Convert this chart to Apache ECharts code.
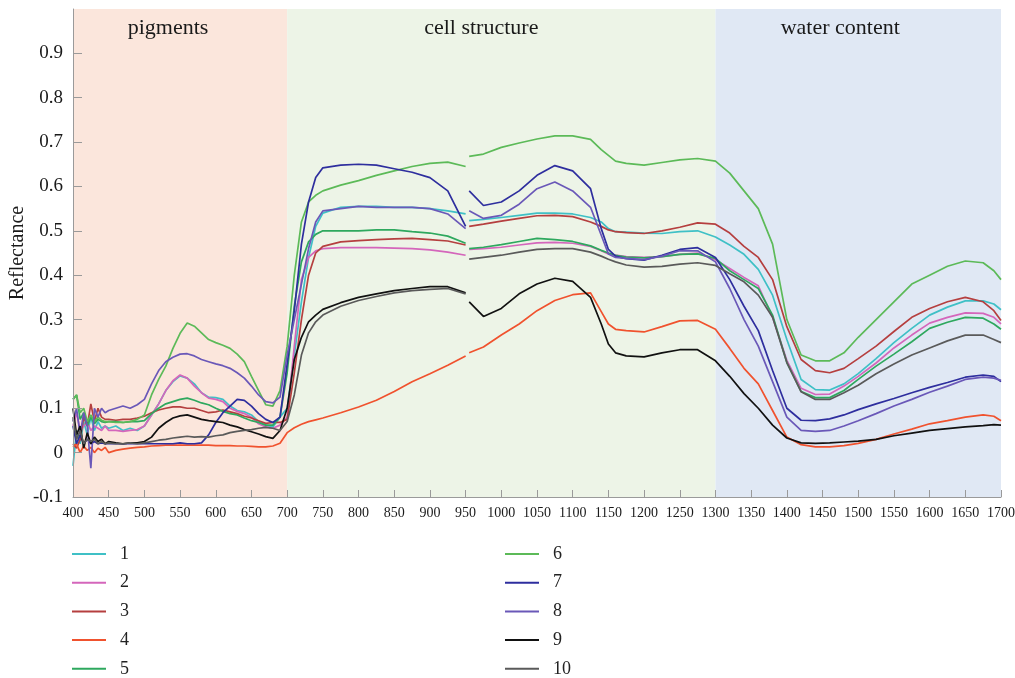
<!DOCTYPE html>
<html><head><meta charset="utf-8">
<script src="https://cdn.jsdelivr.net/npm/echarts@6/dist/echarts.min.js"></script>
<style>html,body{margin:0;padding:0;background:#fff}#c{width:1015px;height:678px}</style>
</head><body><div id="c"></div>
<script>
// Wavelengths (nm): segment A (VNIR) and segment B (SWIR); the sensors join at 950 nm
const wavelengthsA = [400,405,410,415,420,425,430,435,440,445,450,460,470,480,490,500,510,520,530,540,550,560,570,580,590,600,610,620,630,640,650,660,670,680,690,700,710,720,730,740,750,775,800,825,850,875,900,925,950];
const wavelengthsB = [955,975,1000,1025,1050,1075,1100,1125,1140,1150,1160,1175,1200,1225,1250,1275,1300,1320,1340,1360,1380,1400,1420,1440,1460,1480,1500,1525,1550,1575,1600,1625,1650,1675,1690,1700];
const seriesNames = ['1','2','3','4','5','6','7','8','9','10'];
const seriesColors = ['#3fc0c6','#d466bb','#b53f3f','#f0522e','#2ea85e','#5cba58','#2e2e9e','#6a58b8','#111111','#5a5a5a'];
const regionNames = ['pigments','cell structure','water content'];
const regionBounds = [[400,700],[700,1300],[1300,1700]];
const regionColors = ['#fbe6dc','#edf4e7','#e0e8f4'];
const yTickMin = -0.1, yTickMax = 1.0, yTickStep = 0.1;
const yTickValues = [-0.1,0,0.1,0.2,0.3,0.4,0.5,0.6,0.7,0.8,0.9];
const xTickMin = 400, xTickMax = 1700, xTickStep = 50;

const s1A = [-0.03,0.05,0.02,0.07,0.04,0.08,0.05,0.07,0.055,0.06,0.055,0.06,0.05,0.055,0.05,0.06,0.085,0.11,0.14,0.16,0.173,0.168,0.155,0.135,0.125,0.124,0.12,0.105,0.095,0.092,0.085,0.07,0.062,0.058,0.08,0.10,0.22,0.34,0.44,0.51,0.54,0.553,0.555,0.555,0.553,0.553,0.55,0.545,0.538];
const s1B = [0.523,0.526,0.53,0.535,0.54,0.54,0.538,0.53,0.52,0.505,0.498,0.497,0.495,0.494,0.498,0.5,0.486,0.468,0.447,0.413,0.355,0.255,0.165,0.142,0.141,0.155,0.178,0.212,0.248,0.28,0.31,0.328,0.342,0.342,0.335,0.322];
const s2A = [0.06,0.09,0.05,0.06,0.07,0.05,0.06,0.055,0.05,0.06,0.05,0.05,0.048,0.05,0.052,0.06,0.085,0.11,0.14,0.162,0.175,0.168,0.15,0.135,0.123,0.12,0.115,0.1,0.093,0.088,0.08,0.065,0.058,0.055,0.062,0.08,0.24,0.39,0.44,0.455,0.46,0.462,0.462,0.462,0.461,0.46,0.457,0.452,0.445];
const s2B = [0.458,0.46,0.463,0.468,0.473,0.474,0.472,0.465,0.455,0.448,0.445,0.442,0.44,0.442,0.447,0.45,0.435,0.415,0.395,0.376,0.305,0.208,0.145,0.131,0.132,0.15,0.172,0.202,0.236,0.265,0.292,0.305,0.315,0.314,0.305,0.29];
const s3A = [0.02,0.01,0.03,0.08,0.06,0.11,0.07,0.1,0.08,0.075,0.075,0.073,0.075,0.075,0.078,0.082,0.09,0.096,0.1,0.103,0.103,0.1,0.1,0.095,0.09,0.092,0.096,0.092,0.088,0.082,0.078,0.072,0.066,0.068,0.068,0.075,0.18,0.30,0.40,0.45,0.465,0.475,0.478,0.48,0.482,0.483,0.48,0.477,0.468];
const s3B = [0.51,0.515,0.522,0.528,0.534,0.535,0.532,0.52,0.51,0.502,0.498,0.496,0.494,0.5,0.508,0.518,0.515,0.495,0.465,0.44,0.39,0.284,0.21,0.185,0.18,0.19,0.212,0.24,0.273,0.305,0.325,0.34,0.35,0.34,0.32,0.298];
const s4A = [0.013,0.02,0.0,0.015,0.005,0.012,0.0,0.01,0.005,0.012,0.0,0.005,0.008,0.01,0.012,0.013,0.015,0.016,0.017,0.017,0.017,0.017,0.017,0.017,0.017,0.016,0.016,0.016,0.015,0.015,0.014,0.013,0.013,0.015,0.021,0.045,0.056,0.064,0.07,0.074,0.078,0.09,0.103,0.118,0.138,0.16,0.178,0.197,0.218];
const s4B = [0.225,0.238,0.265,0.29,0.32,0.343,0.356,0.36,0.318,0.29,0.278,0.275,0.272,0.284,0.297,0.298,0.278,0.235,0.19,0.155,0.095,0.035,0.018,0.013,0.013,0.016,0.021,0.03,0.042,0.053,0.065,0.072,0.08,0.085,0.082,0.072];
const s5A = [0.12,0.13,0.075,0.09,0.06,0.08,0.065,0.075,0.07,0.068,0.07,0.07,0.068,0.07,0.07,0.072,0.088,0.1,0.11,0.115,0.12,0.123,0.118,0.112,0.108,0.1,0.093,0.088,0.085,0.078,0.072,0.068,0.062,0.062,0.08,0.18,0.33,0.43,0.475,0.492,0.5,0.5,0.5,0.502,0.502,0.498,0.495,0.488,0.472];
const s5B = [0.46,0.463,0.469,0.476,0.483,0.48,0.476,0.466,0.456,0.45,0.445,0.441,0.439,0.442,0.447,0.448,0.438,0.41,0.39,0.37,0.31,0.203,0.138,0.124,0.124,0.14,0.165,0.195,0.222,0.25,0.28,0.294,0.305,0.303,0.29,0.278];
const s6A = [0.12,0.13,0.09,0.1,0.07,0.085,0.07,0.08,0.073,0.07,0.07,0.068,0.068,0.07,0.075,0.085,0.13,0.165,0.195,0.235,0.269,0.292,0.285,0.27,0.255,0.248,0.242,0.235,0.222,0.205,0.172,0.14,0.108,0.105,0.14,0.24,0.40,0.52,0.565,0.58,0.59,0.603,0.613,0.625,0.635,0.645,0.652,0.655,0.645];
const s6B = [0.668,0.673,0.688,0.698,0.707,0.714,0.714,0.706,0.683,0.67,0.657,0.652,0.648,0.654,0.66,0.663,0.657,0.63,0.59,0.55,0.47,0.30,0.22,0.207,0.207,0.225,0.26,0.3,0.34,0.38,0.40,0.42,0.432,0.428,0.41,0.39];
const s7A = [0.06,0.02,0.04,0.02,0.03,0.02,0.025,0.02,0.022,0.02,0.02,0.02,0.02,0.02,0.02,0.02,0.02,0.02,0.02,0.02,0.022,0.02,0.02,0.022,0.04,0.068,0.09,0.105,0.12,0.118,0.105,0.088,0.075,0.068,0.08,0.2,0.32,0.47,0.565,0.62,0.642,0.648,0.65,0.648,0.64,0.632,0.62,0.59,0.51];
const s7B = [0.59,0.557,0.565,0.59,0.625,0.647,0.635,0.595,0.505,0.458,0.443,0.437,0.434,0.445,0.458,0.462,0.44,0.39,0.33,0.275,0.185,0.1,0.073,0.072,0.076,0.085,0.097,0.11,0.122,0.135,0.147,0.158,0.17,0.175,0.172,0.16];
const s8A = [0.07,0.1,0.04,0.09,0.06,-0.035,0.1,0.08,0.1,0.09,0.095,0.1,0.105,0.1,0.108,0.12,0.155,0.185,0.205,0.215,0.222,0.223,0.218,0.21,0.205,0.2,0.196,0.19,0.18,0.168,0.15,0.13,0.115,0.112,0.125,0.22,0.3,0.38,0.46,0.52,0.545,0.55,0.555,0.553,0.553,0.553,0.55,0.538,0.505];
const s8B = [0.545,0.528,0.535,0.56,0.595,0.61,0.59,0.553,0.49,0.448,0.44,0.438,0.435,0.443,0.455,0.455,0.43,0.37,0.3,0.24,0.16,0.08,0.05,0.048,0.05,0.06,0.072,0.088,0.105,0.12,0.136,0.15,0.165,0.17,0.168,0.163];
const s9A = [0.10,0.04,0.06,0.01,0.045,0.02,0.035,0.025,0.03,0.02,0.025,0.022,0.02,0.022,0.022,0.025,0.035,0.055,0.068,0.078,0.083,0.085,0.08,0.075,0.072,0.07,0.068,0.062,0.058,0.052,0.047,0.042,0.036,0.032,0.05,0.1,0.21,0.26,0.295,0.31,0.323,0.338,0.35,0.358,0.365,0.37,0.374,0.374,0.36];
const s9B = [0.34,0.307,0.325,0.358,0.38,0.393,0.386,0.35,0.29,0.245,0.225,0.218,0.216,0.225,0.232,0.232,0.207,0.172,0.133,0.1,0.062,0.033,0.022,0.021,0.022,0.024,0.026,0.03,0.038,0.044,0.05,0.054,0.058,0.061,0.063,0.062];
const s10A = [0.08,0.03,0.05,0.02,0.03,0.025,0.03,0.02,0.025,0.02,0.022,0.02,0.02,0.022,0.02,0.022,0.025,0.028,0.03,0.033,0.035,0.037,0.035,0.036,0.035,0.038,0.04,0.045,0.048,0.05,0.052,0.055,0.057,0.055,0.05,0.07,0.13,0.22,0.27,0.295,0.31,0.33,0.343,0.352,0.36,0.365,0.368,0.37,0.358];
const s10B = [0.436,0.44,0.445,0.452,0.458,0.46,0.46,0.452,0.443,0.436,0.43,0.423,0.418,0.42,0.425,0.428,0.422,0.403,0.385,0.355,0.305,0.203,0.137,0.12,0.12,0.135,0.152,0.178,0.2,0.22,0.236,0.252,0.265,0.265,0.255,0.248];

const segA = [s1A,s2A,s3A,s4A,s5A,s6A,s7A,s8A,s9A,s10A];
const segB = [s1B,s2B,s3B,s4B,s5B,s6B,s7B,s8B,s9B,s10B];
const FONT = 'Liberation Serif';
const regionLabelShift = [-12, -20, -18];

function buildData(a, b) {
  const d = wavelengthsA.map((w, i) => [w, a[i]]);
  d.push([(wavelengthsA[wavelengthsA.length-1] + wavelengthsB[0]) / 2, '-']); // sensor gap
  wavelengthsB.forEach((w, i) => d.push([w, b[i]]));
  return d;
}

const series = [{
  type: 'line', data: [], z: 0, silent: true, symbol: 'none',
  markArea: {
    silent: true,
    itemStyle: {borderWidth: 0, borderColor: 'transparent'},
    data: regionNames.map((n, i) => [
      {name: n, xAxis: regionBounds[i][0], yAxis: yTickMax, itemStyle: {color: regionColors[i], borderWidth: 0},
       label: {show: true, position: 'insideTop', distance: 8, offset: [regionLabelShift[i], 0],
               fontFamily: FONT, fontSize: 22, color: '#1a1a1a'}},
      {xAxis: regionBounds[i][1], yAxis: yTickMin}
    ])
  }
}];
seriesNames.forEach((n, i) => {
  series.push({
    name: n, type: 'line', symbol: 'none', showSymbol: false, z: 3,
    connectNulls: false,
    lineStyle: {width: 1.7, color: seriesColors[i]},
    itemStyle: {color: seriesColors[i]},
    data: buildData(segA[i], segB[i])
  });
});

// one legend block per entry: two columns of five rows
const legends = seriesNames.map((n, i) => ({
  data: [n], orient: 'vertical', icon: 'rect', itemWidth: 34, itemHeight: 2, padding: 0,
  left: i < 5 ? 72 : 505, top: 544 + (i % 5) * 28.7,
  textStyle: {fontFamily: FONT, fontSize: 18, lineHeight: 20, color: '#222', padding: [0,0,0,9]},
  selectedMode: false
}));

const chart = echarts.init(document.getElementById('c'), null, {renderer: 'canvas'});
chart.setOption({
  animation: false,
  backgroundColor: '#ffffff',
  grid: {left: 73, right: 14, top: 9, bottom: 181, outerBoundsMode: 'none', containLabel: false},
  legend: legends,
  xAxis: {
    type: 'value', min: xTickMin, max: xTickMax, interval: xTickStep, z: 10,
    axisLine: {onZero: false, lineStyle: {color: '#9a9a9a', width: 1}},
    axisTick: {inside: true, length: 7, lineStyle: {color: '#9a9a9a'}},
    axisLabel: {fontFamily: FONT, fontSize: 14, color: '#1a1a1a', margin: 9, formatter: v => String(v)},
    splitLine: {show: false}
  },
  yAxis: {
    type: 'value', min: yTickMin, max: yTickMax, interval: yTickStep, z: 10,
    name: 'Reflectance', nameLocation: 'middle', nameGap: 45, nameMoveOverlap: false,
    nameTextStyle: {fontFamily: FONT, fontSize: 20, color: '#1a1a1a'},
    axisLine: {show: true, onZero: false, lineStyle: {color: '#9a9a9a', width: 1}},
    axisTick: {show: true, inside: true, length: 9, customValues: yTickValues, lineStyle: {color: '#9a9a9a'}},
    axisLabel: {
      fontFamily: FONT, fontSize: 19, color: '#1a1a1a', margin: 10, customValues: yTickValues,
      formatter: v => (Math.abs(v) < 1e-9 ? '0' : v.toFixed(1))
    },
    splitLine: {show: false}
  },
  series: series
});
</script></body></html>
